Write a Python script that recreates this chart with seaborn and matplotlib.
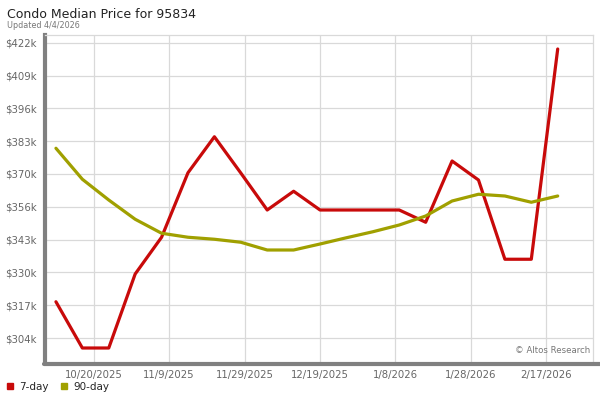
import numpy as np
import pandas as pd
import matplotlib
matplotlib.use("Agg")
import matplotlib.pyplot as plt
import matplotlib.dates as mdates
from matplotlib.lines import Line2D
import seaborn as sns

# weekly points (Fridays)
dates = pd.date_range("2025-10-10", periods=20, freq="7D")
price_7day = [318.5, 300, 300, 329.6, 344.3, 370.1, 384.5, 370, 355.2, 362.7,
              355.2, 355.2, 355.2, 355.2, 350.3, 374.8, 367.2, 335.5, 335.5, 419.6]
price_90day = [379.9, 367.5, 359.2, 351.5, 345.9, 344.3, 343.5, 342.3, 339.2, 339.2,
               341.6, 344.1, 346.5, 349.2, 352.8, 358.8, 361.5, 360.8, 358.3, 360.8]

ytick_vals = [304, 317.1, 330.2, 343.3, 356.4, 369.6, 382.7, 395.8, 408.9, 422]
ytick_labels = ["$304k", "$317k", "$330k", "$343k", "$356k", "$370k",
                "$383k", "$396k", "$409k", "$422k"]
xtick_dates = pd.to_datetime(["2025-10-20", "2025-11-09", "2025-11-29", "2025-12-19",
                              "2026-01-08", "2026-01-28", "2026-02-17"])
xtick_labels = ["10/20/2025", "11/9/2025", "11/29/2025", "12/19/2025",
                "1/8/2026", "1/28/2026", "2/17/2026"]

red = "#c80a0a"
olive = "#a0a000"

df = pd.DataFrame({
    "date": list(dates) * 2,
    "price": price_7day + price_90day,
    "series": ["7-day"] * len(dates) + ["90-day"] * len(dates),
})

sns.set_style("white")
plt.rcParams["font.family"] = ["DejaVu Sans"]

fig = plt.figure(figsize=(6, 4), dpi=100)
ax = fig.add_axes([0.075, 0.0925, 0.913, 0.82])

sns.lineplot(data=df, x="date", y="price", hue="series",
             palette={"7-day": red, "90-day": olive},
             linewidth=2.3, ax=ax, legend=False)

ax.set_xlim(dates[0] - pd.Timedelta(days=2.9), dates[-1] + pd.Timedelta(days=9.3))
ax.set_ylim(294, 425.2)

ax.set_yticks(ytick_vals)
ax.set_yticklabels(ytick_labels)
ax.set_xticks(mdates.date2num(xtick_dates))
ax.set_xticklabels(xtick_labels)
ax.tick_params(axis="both", length=0, labelsize=7.3, colors="#666666")
ax.tick_params(axis="y", pad=6)
ax.tick_params(axis="x", pad=5)
ax.set_xlabel("")
ax.set_ylabel("")

ax.grid(True, color="#d9d9d9", linewidth=0.9)
ax.set_axisbelow(True)

for side in ["top", "right"]:
    ax.spines[side].set_color("#d9d9d9")
    ax.spines[side].set_linewidth(0.9)
ax.spines["left"].set_color("#808080")
ax.spines["left"].set_linewidth(3)
ax.spines["bottom"].set_visible(False)

# thick bottom border that runs to the edge
fig.add_artist(Line2D([0.0725, 1.0], [0.089, 0.089], color="#808080",
                      linewidth=3, transform=fig.transFigure))

fig.text(0.012, 0.965, "Condo Median Price for 95834", fontsize=9,
         color="#222222", va="center")
fig.text(0.012, 0.935, "Updated 4/4/2026", fontsize=5.8, color="#777777", va="center")
ax.text(0.995, 0.025, "\u00a9 Altos Research", transform=ax.transAxes,
        fontsize=6.2, color="#777777", ha="right", va="bottom")

handles = [Line2D([], [], marker="s", linestyle="", color=red, markersize=5),
           Line2D([], [], marker="s", linestyle="", color=olive, markersize=5)]
fig.legend(handles, ["7-day", "90-day"], loc="lower left",
           bbox_to_anchor=(-0.008, -0.003), ncol=2, frameon=False,
           fontsize=7.5, handletextpad=0.4, columnspacing=1.0, handlelength=1.0)

fig.savefig("out.png", dpi=100)
